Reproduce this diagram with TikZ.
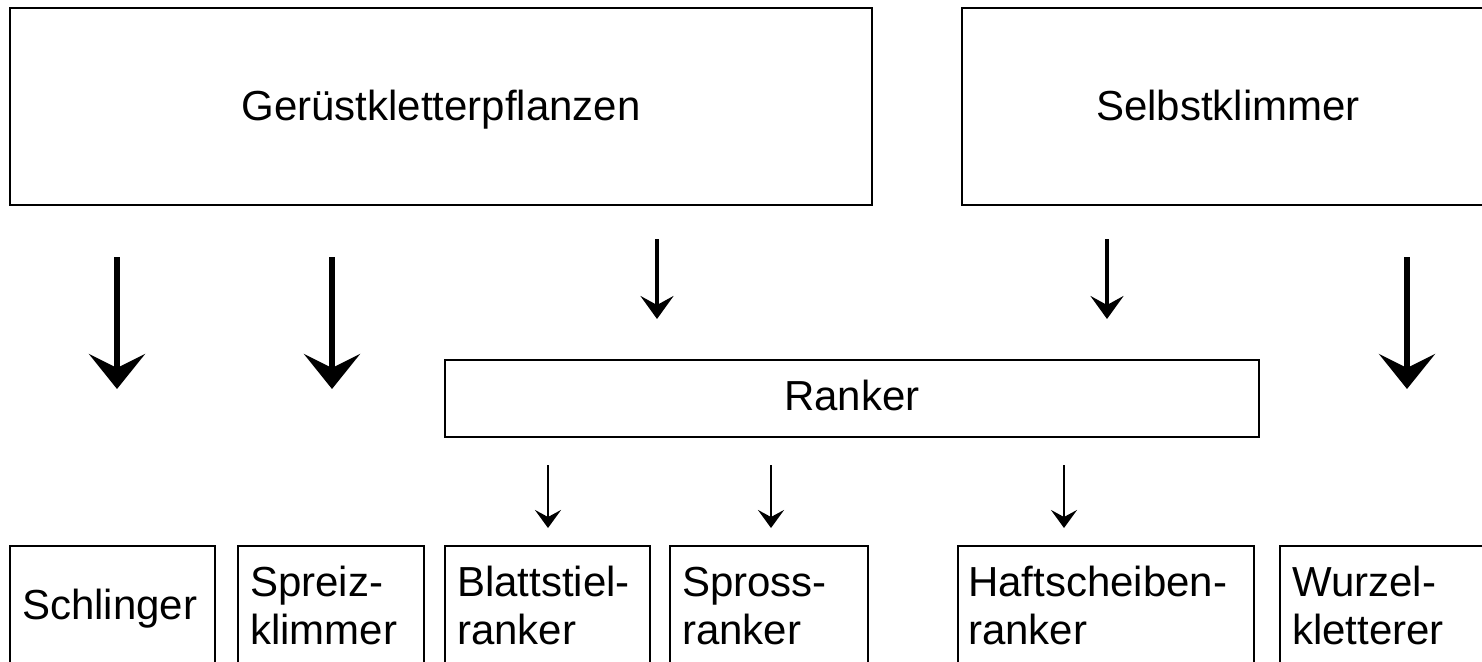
\documentclass[tikz,border=0pt]{standalone}
\usepackage{fontspec}
\setmainfont{Liberation Sans}
\usetikzlibrary{arrows.meta}
\begin{document}
\begin{tikzpicture}[x=1pt,y=1pt,
  box/.style={draw, line width=1.6pt, inner sep=0pt, outer sep=0pt, anchor=north west},
  lbl/.style={inner sep=0pt, font=\fontsize{42}{48}\selectfont},
  bigarr/.style={line width=6pt, -{Stealth[length=35pt,width=56pt,inset=14pt]}},
  midarr/.style={line width=3.5pt, -{Stealth[length=23pt,width=33pt,inset=9pt]}},
  smallarr/.style={line width=2.5pt, -{Stealth[length=18pt,width=26pt,inset=7pt]}}]
\useasboundingbox (0,0) rectangle (1482,-661);
\clip (0,0) rectangle (1482,-661);
% top boxes
\node[box, minimum width=862pt, minimum height=197pt] (ger) at (10,-8) {};
\node[lbl, anchor=base] (gert) at (441,-120) {Gerüstkletterpflanzen};
\node[box, minimum width=532pt, minimum height=197pt] (sel) at (962,-8) {};
\node[lbl, anchor=base] (selt) at (1228,-120) {Selbstklimmer};
% Ranker
\node[box, minimum width=814pt, minimum height=77pt] (ran) at (445,-360) {};
\node[lbl, anchor=base] (rant) at (852,-410) {Ranker};
% bottom boxes
\node[box, minimum width=205pt, minimum height=200pt] (schl) at (10,-546) {};
\node[box, minimum width=186pt, minimum height=200pt] (spr) at (238,-546) {};
\node[box, minimum width=205pt, minimum height=200pt] (bla) at (445,-546) {};
\node[box, minimum width=198pt, minimum height=200pt] (spo) at (670,-546) {};
\node[box, minimum width=296pt, minimum height=200pt] (haf) at (958,-546) {};
\node[box, minimum width=230pt, minimum height=200pt] (wur) at (1280,-546) {};
% bottom labels
\node[lbl, anchor=base west] (schlt) at (22,-619) {Schlinger};
\node[lbl, anchor=base west] (sprt1) at (250,-596) {Spreiz-};
\node[lbl, anchor=base west] (sprt2) at (250,-644) {klimmer};
\node[lbl, anchor=base west] (blat1) at (457,-596) {Blattstiel-};
\node[lbl, anchor=base west] (blat2) at (457,-644) {ranker};
\node[lbl, anchor=base west] (spot1) at (682,-596) {Spross-};
\node[lbl, anchor=base west] (spot2) at (682,-644) {ranker};
\node[lbl, anchor=base west] (haft1) at (968,-596) {Haftscheiben-};
\node[lbl, anchor=base west] (haft2) at (968,-644) {ranker};
\node[lbl, anchor=base west] (wurt1) at (1292,-596) {Wurzel-};
\node[lbl, anchor=base west] (wurt2) at (1292,-644) {kletterer};
% arrow end points
\coordinate (b1s) at (117,-257); \coordinate (b1e) at (117,-389);
\coordinate (b2s) at (332,-257); \coordinate (b2e) at (332,-389);
\coordinate (b3s) at (1407,-257); \coordinate (b3e) at (1407,-389);
\coordinate (m1s) at (657,-239); \coordinate (m1e) at (657,-319);
\coordinate (m2s) at (1107,-239); \coordinate (m2e) at (1107,-319);
\coordinate (s1s) at (548,-465); \coordinate (s1e) at (548,-528);
\coordinate (s2s) at (771,-465); \coordinate (s2e) at (771,-528);
\coordinate (s3s) at (1064,-465); \coordinate (s3e) at (1064,-528);
\draw[bigarr] (b1s) -- (b1e);
\draw[bigarr] (b2s) -- (b2e);
\draw[bigarr] (b3s) -- (b3e);
\draw[midarr] (m1s) -- (m1e);
\draw[midarr] (m2s) -- (m2e);
\draw[smallarr] (s1s) -- (s1e);
\draw[smallarr] (s2s) -- (s2e);
\draw[smallarr] (s3s) -- (s3e);
\end{tikzpicture}
\end{document}
